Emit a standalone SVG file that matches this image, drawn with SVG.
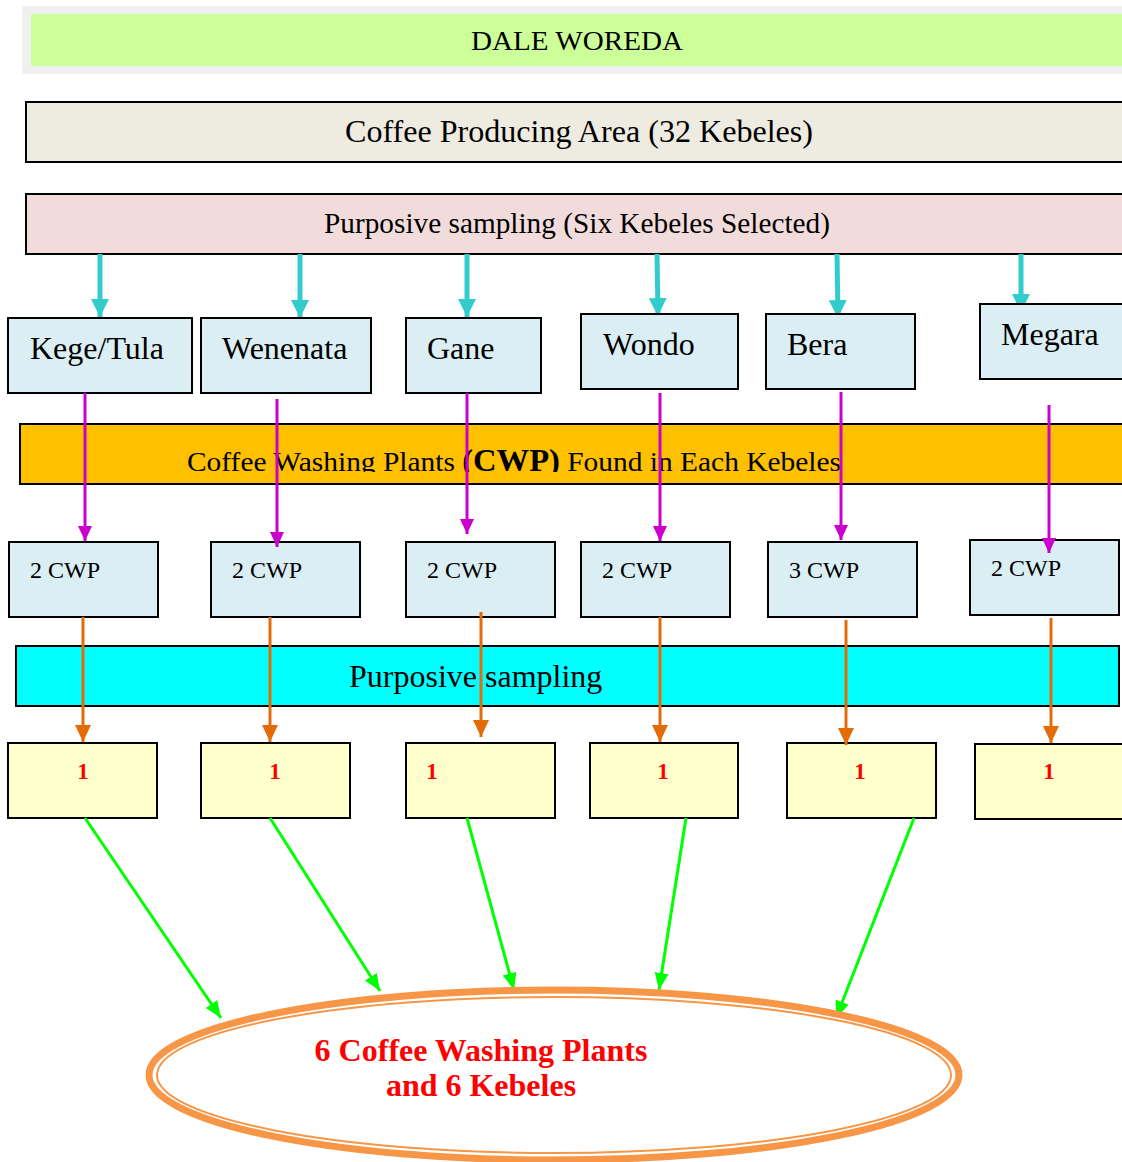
<svg xmlns="http://www.w3.org/2000/svg" width="1122" height="1162" viewBox="0 0 1122 1162">
<style>
text{font-family:"Liberation Serif","Times New Roman",serif;fill:#000}
.box{stroke:#000;stroke-width:2}
.keb{fill:#daeef3}
.yel{fill:#ffffcc}
.kt{font-size:32px}
.ct{font-size:24px}
.one{font-size:23px;font-weight:bold;fill:#ff0000;text-anchor:middle}
.cy{stroke:#33cccc;stroke-width:5;fill:none}
.mg{stroke:#cc00cc;stroke-width:3;fill:none}
.or{stroke:#e36c09;stroke-width:3;fill:none}
.gr{stroke:#00ff00;stroke-width:3;fill:none}
.res{font-size:32px;font-weight:bold;fill:#ff0000;text-anchor:middle}
</style>
<defs>
<marker id="mcy" markerUnits="userSpaceOnUse" markerWidth="20" markerHeight="20" refX="18" refY="10" orient="auto"><path d="M0,1 L18,10 L0,19 Z" fill="#33cccc"/></marker>
<marker id="mmg" markerUnits="userSpaceOnUse" markerWidth="16" markerHeight="16" refX="15" refY="8" orient="auto"><path d="M0,1 L15,8 L0,15 Z" fill="#cc00cc"/></marker>
<marker id="mor" markerUnits="userSpaceOnUse" markerWidth="18" markerHeight="18" refX="17" refY="9" orient="auto"><path d="M0,1 L17,9 L0,17 Z" fill="#e36c09"/></marker>
<marker id="mgr" markerUnits="userSpaceOnUse" markerWidth="18" markerHeight="18" refX="17" refY="8" orient="auto"><path d="M0,1 L17,8 L0,15 Z" fill="#00ff00"/></marker>
<clipPath id="cwpclip"><rect x="20" y="424" width="1102" height="48"/></clipPath>
</defs>
<rect width="1122" height="1162" fill="#fff"/>

<g id="woreda">
<rect x="22" y="6" width="1100" height="68" fill="#f0f0f0"/>
<rect x="31" y="14" width="1091" height="52" fill="#ccff99"/>
<text x="471" y="50" font-size="28" textLength="212" lengthAdjust="spacingAndGlyphs">DALE WOREDA</text>
</g>

<g id="area">
<rect class="box" x="26" y="102" width="1100" height="60" fill="#eeebe0"/>
<text x="345" y="142" font-size="31" textLength="468" lengthAdjust="spacingAndGlyphs">Coffee Producing Area (32 Kebeles)</text>
</g>

<g id="sampling1">
<rect class="box" x="26" y="194" width="1100" height="60" fill="#f2dcdb"/>
<text x="324" y="233" font-size="29" textLength="506" lengthAdjust="spacingAndGlyphs">Purposive sampling (Six Kebeles Selected)</text>
</g>

<g id="cwpband">
<rect class="box" x="20" y="424" width="1104" height="60" fill="#ffc000"/>
<text x="187" y="471" font-size="28" clip-path="url(#cwpclip)" textLength="654" lengthAdjust="spacingAndGlyphs">Coffee Washing Plants <tspan font-weight="bold" font-size="31">(CWP)</tspan> Found in Each Kebeles</text>
</g>

<g id="sampling2">
<rect class="box" x="16" y="646" width="1103" height="60" fill="#00ffff"/>
<text x="349" y="687" font-size="32">Purposive sampling</text>
</g>

<g id="connectors-top">
<line class="cy" x1="100" y1="254" x2="100" y2="317" marker-end="url(#mcy)"/>
<line class="cy" x1="300" y1="254" x2="300" y2="318" marker-end="url(#mcy)"/>
<line class="cy" x1="467" y1="254" x2="467" y2="317" marker-end="url(#mcy)"/>
<line class="cy" x1="657" y1="254" x2="658" y2="316" marker-end="url(#mcy)"/>
<line class="cy" x1="837" y1="254" x2="838" y2="318" marker-end="url(#mcy)"/>
<line class="cy" x1="1021" y1="254" x2="1021" y2="312" marker-end="url(#mcy)"/>
</g>

<g id="kebele-kege"><rect class="box keb" x="8" y="318" width="184" height="75"/><text class="kt" x="30" y="359">Kege/Tula</text></g>
<g id="kebele-wenenata"><rect class="box keb" x="201" y="318" width="170" height="75"/><text class="kt" x="222" y="359">Wenenata</text></g>
<g id="kebele-gane"><rect class="box keb" x="406" y="318" width="135" height="75"/><text class="kt" x="427" y="359">Gane</text></g>
<g id="kebele-wondo"><rect class="box keb" x="581" y="314" width="157" height="75"/><text class="kt" x="603" y="355">Wondo</text></g>
<g id="kebele-bera"><rect class="box keb" x="766" y="314" width="149" height="75"/><text class="kt" x="787" y="355">Bera</text></g>
<g id="kebele-megara"><rect class="box keb" x="980" y="304" width="146" height="75"/><text class="kt" x="1001" y="345">Megara</text></g>

<g id="cwp-1"><rect class="box keb" x="9" y="542" width="149" height="75"/><text class="ct" x="30" y="578">2 CWP</text></g>
<g id="cwp-2"><rect class="box keb" x="211" y="542" width="149" height="75"/><text class="ct" x="232" y="578">2 CWP</text></g>
<g id="cwp-3"><rect class="box keb" x="406" y="542" width="149" height="75"/><text class="ct" x="427" y="578">2 CWP</text></g>
<g id="cwp-4"><rect class="box keb" x="581" y="542" width="149" height="75"/><text class="ct" x="602" y="578">2 CWP</text></g>
<g id="cwp-5"><rect class="box keb" x="768" y="542" width="149" height="75"/><text class="ct" x="789" y="578">3 CWP</text></g>
<g id="cwp-6"><rect class="box keb" x="970" y="540" width="149" height="75"/><text class="ct" x="991" y="576">2 CWP</text></g>

<g id="sel-1"><rect class="box yel" x="8" y="743" width="149" height="75"/><text class="one" x="83" y="779">1</text></g>
<g id="sel-2"><rect class="box yel" x="201" y="743" width="149" height="75"/><text class="one" x="275" y="779">1</text></g>
<g id="sel-3"><rect class="box yel" x="406" y="743" width="149" height="75"/><text class="one" x="432" y="779">1</text></g>
<g id="sel-4"><rect class="box yel" x="590" y="743" width="148" height="75"/><text class="one" x="663" y="779">1</text></g>
<g id="sel-5"><rect class="box yel" x="787" y="743" width="149" height="75"/><text class="one" x="860" y="779">1</text></g>
<g id="sel-6"><rect class="box yel" x="975" y="744" width="151" height="75"/><text class="one" x="1049" y="779">1</text></g>

<g id="connectors">
<line class="mg" x1="85" y1="393" x2="85" y2="541" marker-end="url(#mmg)"/>
<line class="mg" x1="277" y1="399" x2="277" y2="547" marker-end="url(#mmg)"/>
<line class="mg" x1="467" y1="393" x2="467" y2="534" marker-end="url(#mmg)"/>
<line class="mg" x1="660" y1="393" x2="660" y2="541" marker-end="url(#mmg)"/>
<line class="mg" x1="841" y1="392" x2="841" y2="540" marker-end="url(#mmg)"/>
<line class="mg" x1="1049" y1="405" x2="1049" y2="553" marker-end="url(#mmg)"/>

<line class="or" x1="83" y1="617" x2="83" y2="742" marker-end="url(#mor)"/>
<line class="or" x1="270" y1="617" x2="270" y2="742" marker-end="url(#mor)"/>
<line class="or" x1="481" y1="612" x2="481" y2="737" marker-end="url(#mor)"/>
<line class="or" x1="660" y1="617" x2="660" y2="742" marker-end="url(#mor)"/>
<line class="or" x1="846" y1="620" x2="846" y2="745" marker-end="url(#mor)"/>
<line class="or" x1="1051" y1="618" x2="1051" y2="743" marker-end="url(#mor)"/>

<line class="gr" x1="85" y1="818" x2="221" y2="1018" marker-end="url(#mgr)"/>
<line class="gr" x1="270" y1="818" x2="380" y2="991" marker-end="url(#mgr)"/>
<line class="gr" x1="467" y1="818" x2="514" y2="990" marker-end="url(#mgr)"/>
<line class="gr" x1="686" y1="818" x2="659" y2="990" marker-end="url(#mgr)"/>
<line class="gr" x1="914" y1="818" x2="836" y2="1018" marker-end="url(#mgr)"/>
</g>

<g id="result">
<ellipse cx="554" cy="1075" rx="405" ry="85" fill="#fff" stroke="#f79646" stroke-width="7"/>
<ellipse cx="554" cy="1075" rx="397" ry="78" fill="none" stroke="#f79646" stroke-width="2"/>
<text class="res" x="481" y="1061">6 Coffee Washing Plants</text>
<text class="res" x="481" y="1096">and 6 Kebeles</text>
</g>
</svg>
